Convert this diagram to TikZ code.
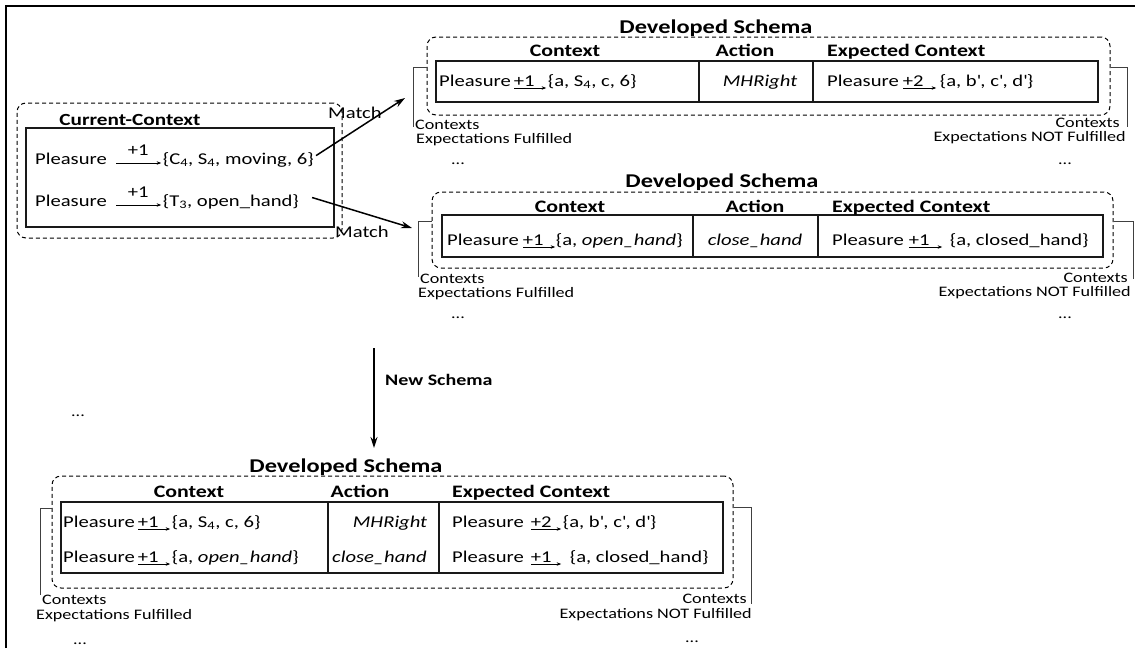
\documentclass[tikz,border=0pt]{standalone}
\usepackage{fontspec}
\setmainfont{Carlito}[FakeStretch=1.25]
\usetikzlibrary{arrows.meta,fit}

\newcommand{\bodyfont}{\fontsize{16.5}{19}\selectfont}
\newcommand{\lblfont}{\fontsize{14.5}{14}\selectfont}
\newcommand{\headfont}{\bfseries\fontsize{17.5}{20}\selectfont}
\newcommand{\titlefont}{\bfseries\fontsize{19.5}{22}\selectfont}

% small arrow with the gain written over it
\newcommand{\gainup}[2]{\rlap{\tikz[baseline=0pt]\draw[line width=0.7pt,-{Stealth[length=4.5pt,width=3.5pt]}] (0pt,1pt) -- (#1,1pt);}\makebox[#1][c]{\raisebox{9pt}{#2}}}
% small arrow under the gain
\newcommand{\gainlow}[2]{\rlap{\tikz[baseline=0pt]\draw[line width=0.7pt,-{Stealth[length=4.5pt,width=3.5pt]}] (0pt,-2pt) -- (#1,-2pt);}\makebox[#1][l]{#2}}

\begin{document}
\begin{tikzpicture}[x=1pt,y=-1pt,
    frame/.style={line width=1.6pt},
    dashbox/.style={draw=black,dash pattern=on 4pt off 3pt,rounded corners=9pt,line width=1pt,inner sep=0pt},
    cell/.style={draw=black!90,line width=1.4pt,inner sep=0pt},
    bracket/.style={draw=black!75,line width=1pt},
    link/.style={line width=1.5pt,-{Stealth[length=11pt,width=7pt]}},
    head/.style={anchor=base,font=\headfont,inner sep=0pt},
    txt/.style={anchor=base west,font=\bodyfont,inner sep=0pt},
    lbl/.style={anchor=base west,font=\lblfont,inner sep=0pt}]

  \useasboundingbox (0,0) rectangle (1135,648);
  \draw[frame] (6,648) -- (6,6) -- (1135,6);

  % current context
  \node[dashbox,fit={(17,103)(342,238)}] (ccdash) {};
  \node[cell,fit={(26,128)(334,227)}] (ccbox) {};
  \node[head,font=\bfseries\fontsize{17}{20}\selectfont] (cctitle) at (130,125) {Current-Context};
  \node[txt] (ccrow1) at (35,164) {Pleasure\hspace{9pt}\gainup{45pt}{+1}\hspace{2pt}\{C\textsubscript{4}, S\textsubscript{4}, moving, 6\}};
  \node[txt] (ccrow2) at (35,206) {Pleasure\hspace{9pt}\gainup{45pt}{+1}\hspace{2pt}\{T\textsubscript{3}, open\_hand\}};

  \coordinate (tip1) at (405,98);
  \coordinate (tip2) at (412,228);
  \draw[link] ([xshift=2pt]ccrow1.east) -- (tip1);
  \draw[link] ([xshift=13pt]ccrow2.east) -- (tip2);
  \node[font=\bodyfont,inner sep=0pt] (match1) at (355,113) {Match};
  \node[font=\bodyfont,inner sep=0pt] (match2) at (362,232) {Match};

  \coordinate (newtop) at (374,348);
  \coordinate (newtip) at (374,448);
  \draw[link] (newtop) -- (newtip);
  \node[anchor=base west,font=\bfseries\fontsize{16}{19}\selectfont,inner sep=0pt] (newlbl) at (385,385) {New Schema};

  \node[font=\lblfont,inner sep=0pt] (dotsleft) at (78,416) {...};

  % developed schema 1
  \node[anchor=base,font=\titlefont,inner sep=0pt] (ds1title) at (716,33) {Developed Schema};
  \node[dashbox,fit={(427,37)(1110,115)}] (ds1) {};
  \node[cell,fit={(436,61)(699,102)}] (ds1ctx) {};
  \node[cell,fit={(699,61)(813,102)}] (ds1act) {};
  \node[cell,fit={(813,61)(1098,102)}] (ds1exp) {};
  \node[head] (ds1h1) at (565,56) {Context};
  \node[head] (ds1h2) at (745,56) {Action};
  \node[head,anchor=base west] (ds1h3) at (827,56) {Expected Context};
  \node[txt] (ds1c) at (439,86) {Pleasure\hspace{3pt}\gainlow{32pt}{+1}\hspace{2pt}\{a, S\textsubscript{4}, c, 6\}};
  \node[txt,anchor=base] (ds1a) at (760,86) {\textit{MHRight}};
  \node[txt] (ds1e) at (827,86) {Pleasure\hspace{4pt}\gainlow{33pt}{+2}\hspace{4pt}\{a, b\textquotesingle, c\textquotesingle, d\textquotesingle\}};
  \draw[bracket] (ds1.west |- 0,67) -| (413,127);
  \draw[bracket] (ds1.east |- 0,67) -| (1127,127);
  \node[lbl] (ds1l1) at (415,129) {Contexts};
  \node[lbl] (ds1l2) at (416,143) {Expectations Fulfilled};
  \node[lbl,anchor=base] (ds1l3) at (458,164) {...};
  \node[lbl,anchor=base east] (ds1r1) at (1120,127) {Contexts};
  \node[lbl,anchor=base east] (ds1r2) at (1126,141) {Expectations NOT Fulfilled};
  \node[lbl,anchor=base] (ds1r3) at (1065,164) {...};

  % developed schema 2
  \node[anchor=base,font=\titlefont,inner sep=0pt] (ds2title) at (722,187) {Developed Schema};
  \node[dashbox,fit={(432,192)(1113,268)}] (ds2) {};
  \node[cell,fit={(442,215)(693,257)}] (ds2ctx) {};
  \node[cell,fit={(693,215)(818,257)}] (ds2act) {};
  \node[cell,fit={(818,215)(1103,257)}] (ds2exp) {};
  \node[head] (ds2h1) at (570,212) {Context};
  \node[head] (ds2h2) at (755,212) {Action};
  \node[head,anchor=base west] (ds2h3) at (832,212) {Expected Context};
  \node[txt] (ds2c) at (447,245) {Pleasure\hspace{4pt}\gainlow{32pt}{+1}\hspace{1pt}\{a, \textit{open\_hand}\}};
  \node[txt,anchor=base] (ds2a) at (755,245) {\textit{close\_hand}};
  \node[txt] (ds2e) at (832,245) {Pleasure\hspace{5pt}\gainlow{33pt}{+1}\hspace{8pt}\{a, closed\_hand\}};
  \draw[bracket] (ds2.west |- 0,221) -| (418,277);
  \draw[bracket] (ds2.east |- 0,221) -| (1133,279);
  \node[lbl] (ds2l1) at (420,283) {Contexts};
  \node[lbl] (ds2l2) at (418,297) {Expectations Fulfilled};
  \node[lbl,anchor=base] (ds2l3) at (458,318) {...};
  \node[lbl,anchor=base east] (ds2r1) at (1128,282) {Contexts};
  \node[lbl,anchor=base east] (ds2r2) at (1131,296) {Expectations NOT Fulfilled};
  \node[lbl,anchor=base] (ds2r3) at (1065,318) {...};

  % developed schema 3 (new)
  \node[anchor=base,font=\titlefont,inner sep=0pt] (ds3title) at (346,472) {Developed Schema};
  \node[dashbox,fit={(52,476)(733,588)}] (ds3) {};
  \node[cell,fit={(61,502)(328,573)}] (ds3ctx) {};
  \node[cell,fit={(328,502)(439,573)}] (ds3act) {};
  \node[cell,fit={(439,502)(723,573)}] (ds3exp) {};
  \node[head] (ds3h1) at (189,497) {Context};
  \node[head] (ds3h2) at (360,497) {Action};
  \node[head,anchor=base west] (ds3h3) at (452,497) {Expected Context};
  \node[txt] (ds3c1) at (63,527) {Pleasure\hspace{3pt}\gainlow{32pt}{+1}\hspace{2pt}\{a, S\textsubscript{4}, c, 6\}};
  \node[txt] (ds3c2) at (63,562) {Pleasure\hspace{3pt}\gainlow{32pt}{+1}\hspace{2pt}\{a, \textit{open\_hand}\}};
  \node[txt,anchor=base] (ds3a1) at (390,527) {\textit{MHRight}};
  \node[txt] (ds3a2) at (332,562) {\textit{close\_hand}};
  \node[txt] (ds3e1) at (452,527) {Pleasure\hspace{7pt}\gainlow{30pt}{+2}\hspace{2pt}\{a, b\textquotesingle, c\textquotesingle, d\textquotesingle\}};
  \node[txt] (ds3e2) at (452,562) {Pleasure\hspace{7pt}\gainlow{30pt}{+1}\hspace{9pt}\{a, closed\_hand\}};
  \draw[bracket] (ds3.west |- 0,508) -| (40,595);
  \draw[bracket] (ds3.east |- 0,507) -| (751,604);
  \node[lbl] (ds3l1) at (42,604) {Contexts};
  \node[lbl] (ds3l2) at (36,619) {Expectations Fulfilled};
  \node[lbl,anchor=base] (ds3l3) at (80,644) {...};
  \node[lbl,anchor=base east] (ds3r1) at (747,603) {Contexts};
  \node[lbl,anchor=base east] (ds3r2) at (752,618) {Expectations NOT Fulfilled};
  \node[lbl,anchor=base] (ds3r3) at (692,642) {...};

\end{tikzpicture}
\end{document}
